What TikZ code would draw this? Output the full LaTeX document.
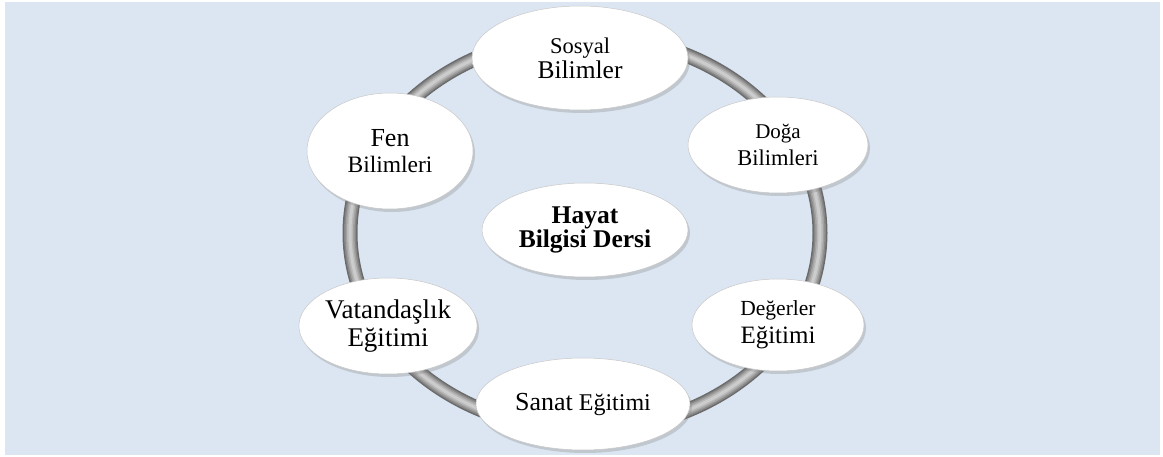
\documentclass[tikz,border=0pt]{standalone}
\usepackage{fontspec}
\setmainfont{Liberation Serif}
\usetikzlibrary{shapes.geometric,shadows}
\definecolor{bgblue}{HTML}{DCE6F2}
\newcommand\myfs[2]{\fontsize{#1}{#2}\selectfont}
\pgfdeclareradialshading{bevel}{\pgfpoint{0bp}{8bp}}{%
  color(0bp)=(white); color(30bp)=(white); color(42bp)=(black!10);
  color(50bp)=(black!28); color(60bp)=(black!50)}
\tikzset{
  bubble/.style={ellipse, inner sep=0pt, draw=black!22, line width=0.5pt,
    shading=bevel,
    drop shadow={opacity=0.3, shadow xshift=2pt, shadow yshift=-3pt},
    align=center, text=black},
  tube1/.style={line width=15pt, draw=black!58},
  tube2/.style={line width=12pt, draw=black!47},
  tube3/.style={line width=9pt, draw=black!37},
  tube4/.style={line width=6pt, draw=black!28},
  tube5/.style={line width=3pt, draw=black!20},
}
\begin{document}
\begin{tikzpicture}[x=1pt,y=-1pt]
\useasboundingbox (0,0) rectangle (1163,457);
\fill[white] (0,0) rectangle (1163,457);
\fill[bgblue] (5,2) rectangle (1160,455);
% ring
\coordinate (rc) at (585,233);
\foreach \t in {tube1,tube2,tube3,tube4,tube5}
  \draw[\t] (rc) ellipse [x radius=235pt, y radius=197pt];
% nodes
\node[bubble, minimum width=216pt, minimum height=104pt, font=\myfs{25.5}{25}] (sosyal) at (580,58)
  {{\myfs{22.5}{25}Sosyal}\\Bilimler};
\node[bubble, minimum width=166pt, minimum height=116pt, font=\myfs{26}{26}] (fen) at (390,151)
  {Fen\\{\myfs{23.5}{26}Bilimleri}};
\node[bubble, minimum width=180pt, minimum height=96pt, font=\myfs{22.5}{27}] (doga) at (778,145)
  {{\myfs{21}{27}Doğa}\\Bilimleri};
\node[bubble, minimum width=206pt, minimum height=94pt, font=\bfseries\myfs{25.5}{24}] (hayat) at (585,230)
  {Hayat\\Bilgisi Dersi};
\node[bubble, minimum width=164pt, minimum height=96pt, font=\myfs{27}{28}] (vatan) at (388,326)
  {Vatandaşlık\\Eğitimi};
\node[bubble, minimum width=172pt, minimum height=92pt, font=\myfs{25}{28}] (deger) at (778,325)
  {{\myfs{21.5}{28}Değerler}\\Eğitimi};
\node[bubble, minimum width=214pt, minimum height=92pt, font=\myfs{24}{26}] (sanat) at (583,404)
  {{\myfs{26}{26}Sanat} Eğitimi};
\end{tikzpicture}
\end{document}
